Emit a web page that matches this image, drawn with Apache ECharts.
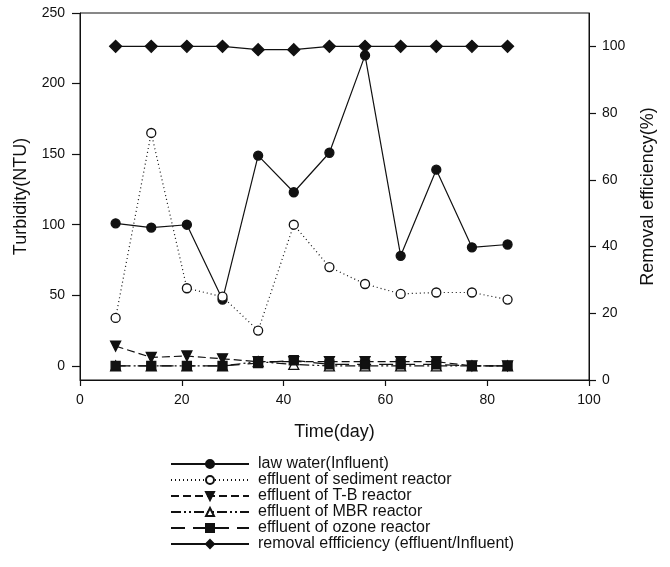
<!DOCTYPE html>
<html>
<head>
<meta charset="utf-8">
<script src="https://cdn.jsdelivr.net/npm/echarts@6/dist/echarts.min.js"></script>
<style>
  html, body { margin: 0; padding: 0; background: #fff; }
  #chart { width: 670px; height: 567px; }
</style>
</head>
<body>
<div id="chart"></div>
<script>
  var days = [7, 14, 21, 28, 35, 42, 49, 56, 63, 70, 77, 84];
  var lawWater = [101, 98, 100, 47, 149, 123, 151, 220, 78, 139, 84, 86];
  var sediment = [34, 165, 55, 49, 25, 100, 70, 58, 51, 52, 52, 47];
  var tbReactor = [14, 6, 7, 5, 3, 3, 3, 3, 3, 3, 0, 0];
  var mbrReactor = [0, 0, 0, 0, 3, 1, 0, 0, 0, 0, 0, 0];
  var ozoneReactor = [0, 0, 0, 0, 2, 4, 1, 1, 1, 1, 0, 0];
  var removal = [100, 100, 100, 100, 99, 99, 100, 100, 100, 100, 100, 100];
  var leftTicks = [0, 50, 100, 150, 200, 250];
  var rightTicks = [0, 20, 40, 60, 80, 100];

  function pairs(ys) {
    return days.map(function (d, i) { return [d, ys[i]]; });
  }

  var font = 'Liberation Sans, Arial, sans-serif';
  var black = '#111';

  function mk(name, data, yIdx, symbol, size, filled, dash, rot) {
    return {
      name: name,
      type: 'line',
      yAxisIndex: yIdx,
      data: pairs(data),
      symbol: symbol,
      symbolSize: size,
      symbolRotate: rot || 0,
      showAllSymbol: true,
      lineStyle: { color: black, width: 1.2, type: dash },
      itemStyle: { color: filled ? black : '#fff', borderColor: black, borderWidth: 1.3 },
      emphasis: { disabled: true },
      z: 3
    };
  }

  var chartDom = document.getElementById('chart');
  var myChart = echarts.init(chartDom);
  var option = {
    animation: false,
    textStyle: { fontFamily: font, color: black },
    grid: {
      left: 80, right: 81, top: 13, bottom: 187,
      show: true, borderColor: black, borderWidth: 1
    },
    legend: {
      orient: 'vertical',
      left: 170,
      top: 456,
      padding: 0,
      itemWidth: 78,
      itemHeight: 10,
      itemGap: 0,
      textStyle: { fontFamily: font, fontSize: 16, lineHeight: 15.5, color: black, padding: [0, 0, 0, 4] },
      data: [
        'law water(Influent)',
        'effluent of sediment reactor',
        'effluent of T-B reactor',
        'effluent of MBR reactor',
        'effluent of ozone reactor',
        'removal effficiency (effluent/Influent)'
      ]
    },
    xAxis: {
      type: 'value',
      min: 0, max: 100, interval: 20,
      name: 'Time(day)',
      nameLocation: 'middle',
      nameGap: 43,
      nameTextStyle: { fontSize: 18, color: black, fontFamily: font },
      axisLine: { onZero: false, lineStyle: { color: black, width: 1 } },
      axisTick: { show: true, inside: false, length: 6, lineStyle: { color: black, width: 1.2 } },
      axisLabel: { fontSize: 14, color: black, margin: 13 },
      splitLine: { show: false }
    },
    yAxis: [
      {
        type: 'value',
        min: -10, max: 250,
        name: 'Turbidity(NTU)',
        nameLocation: 'middle',
        nameGap: 50,
        nameTextStyle: { fontSize: 18, color: black, fontFamily: font },
        axisLine: { show: true, lineStyle: { color: black, width: 1 } },
        axisTick: { show: true, length: 8, customValues: leftTicks, lineStyle: { color: black, width: 1.2 } },
        axisLabel: { fontSize: 14, color: black, margin: 15, customValues: leftTicks },
        splitLine: { show: false }
      },
      {
        type: 'value',
        min: 0, max: 110,
        position: 'right',
        name: 'Removal efficiency(%)',
        nameLocation: 'middle',
        nameGap: 50,
        nameRotate: 90,
        nameTextStyle: { fontSize: 18, color: black, fontFamily: font },
        axisLine: { show: true, lineStyle: { color: black, width: 1 } },
        axisTick: { show: true, length: 7, customValues: rightTicks, lineStyle: { color: black, width: 1.2 } },
        axisLabel: { fontSize: 14, color: black, margin: 13, customValues: rightTicks },
        splitLine: { show: false }
      }
    ],
    series: [
      mk('law water(Influent)', lawWater, 0, 'circle', 9, true, 'solid'),
      mk('effluent of sediment reactor', sediment, 0, 'circle', 9, false, [1, 3]),
      mk('effluent of T-B reactor', tbReactor, 0, 'triangle', 10, true, [8, 4], 180),
      mk('effluent of MBR reactor', mbrReactor, 0, 'triangle', 10, false, [10, 3, 2, 3, 2, 3]),
      mk('effluent of ozone reactor', ozoneReactor, 0, 'rect', 9, true, [14, 8]),
      mk('removal effficiency (effluent/Influent)', removal, 1, 'diamond', 12, true, 'solid')
    ]
  };
  option && myChart.setOption(option);
</script>
</body>
</html>
